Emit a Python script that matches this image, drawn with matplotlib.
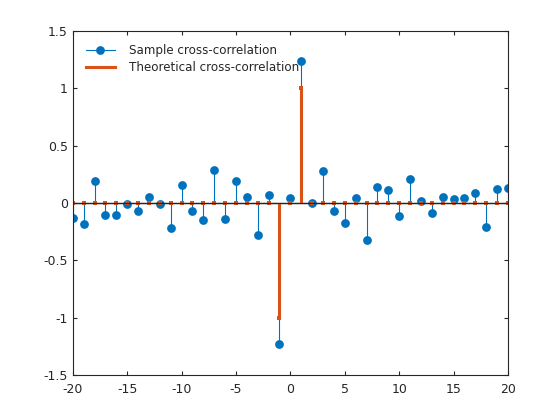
import numpy as np
from matplotlib import pyplot as plt
from matplotlib.lines import Line2D
from matplotlib.legend_handler import HandlerLine2D

lags = np.arange(-20, 21)
sample_xc = [-0.13, -0.18, 0.19, -0.10, -0.10, -0.01, -0.07, 0.05, -0.01, -0.22,
             0.155, -0.07, -0.145, 0.29, -0.135, 0.19, 0.05, -0.28, 0.07, -1.225,
             0.04, 1.24, 0.0, 0.28, -0.065, -0.17, 0.04, -0.32, 0.14, 0.11,
             -0.115, 0.21, 0.015, -0.09, 0.055, 0.035, 0.045, 0.09, -0.205, 0.12,
             0.13]
theory_xc = [0.0] * 41
theory_xc[19] = -1.0
theory_xc[21] = 1.0

xtick_labels = ['-20', '-15', '-10', '-5', '0', '5', '10', '15', '20']
ytick_labels = ['-1.5', '-1', '-0.5', '0', '0.5', '1', '1.5']

blue = '#0072BD'
orange = '#D95319'
dark = '#262626'


class EndMarker(HandlerLine2D):
    # marker drawn at the right end of the legend line
    def get_xdata(self, legend, xdescent, ydescent, width, height, fontsize):
        xdata = np.array([-xdescent, -xdescent + width])
        return xdata, xdata[-1:]


def main():
    fig = plt.figure(figsize=(5.6, 4.2), dpi=100)
    ax = fig.add_axes([0.13, 0.107, 0.777, 0.819])

    # sample stems
    m, s, b = ax.stem(lags, sample_xc, linefmt='-', markerfmt='o', basefmt='-')
    plt.setp(s, color=blue, linewidth=0.8)
    plt.setp(m, color=blue, markersize=6.3, markeredgewidth=0)
    plt.setp(b, color=dark, linewidth=0.9)

    # theoretical stems
    m2, s2, b2 = ax.stem(lags, theory_xc, linefmt='-', markerfmt='s', basefmt='-')
    plt.setp(s2, color=orange, linewidth=2.2)
    plt.setp(m2, color=orange, markersize=3, markeredgewidth=0)
    plt.setp(b2, color=dark, linewidth=0.9)

    ax.set_xlim(-20, 20)
    ax.set_ylim(-1.5, 1.5)
    ax.set_xticks(np.arange(-20, 21, 5))
    ax.set_xticklabels(xtick_labels)
    ax.set_yticks(np.arange(-1.5, 1.51, 0.5))
    ax.set_yticklabels(ytick_labels)
    ax.tick_params(direction='in', top=True, right=True, labelsize=9,
                   length=3, color=dark, labelcolor=dark)
    ax.tick_params(axis='x', pad=5.5)
    ax.tick_params(axis='y', pad=3.5)
    for sp in ax.spines.values():
        sp.set_linewidth(0.8)
        sp.set_color(dark)

    h1 = Line2D([], [], color=blue, linewidth=0.8, marker='o', markersize=6.3,
                markeredgewidth=0)
    h2 = Line2D([], [], color=orange, linewidth=2.2)
    leg = ax.legend([h1, h2], ['Sample cross-correlation', 'Theoretical cross-correlation'],
                    loc='upper left', frameon=False, fontsize=8.6,
                    handler_map={h1: EndMarker()}, borderaxespad=0.7,
                    handlelength=2.4, handletextpad=1.2, labelspacing=0.35)
    for t in leg.get_texts():
        t.set_color(dark)

    fig.savefig('out.png', dpi=100)


if __name__ == '__main__':
    main()
